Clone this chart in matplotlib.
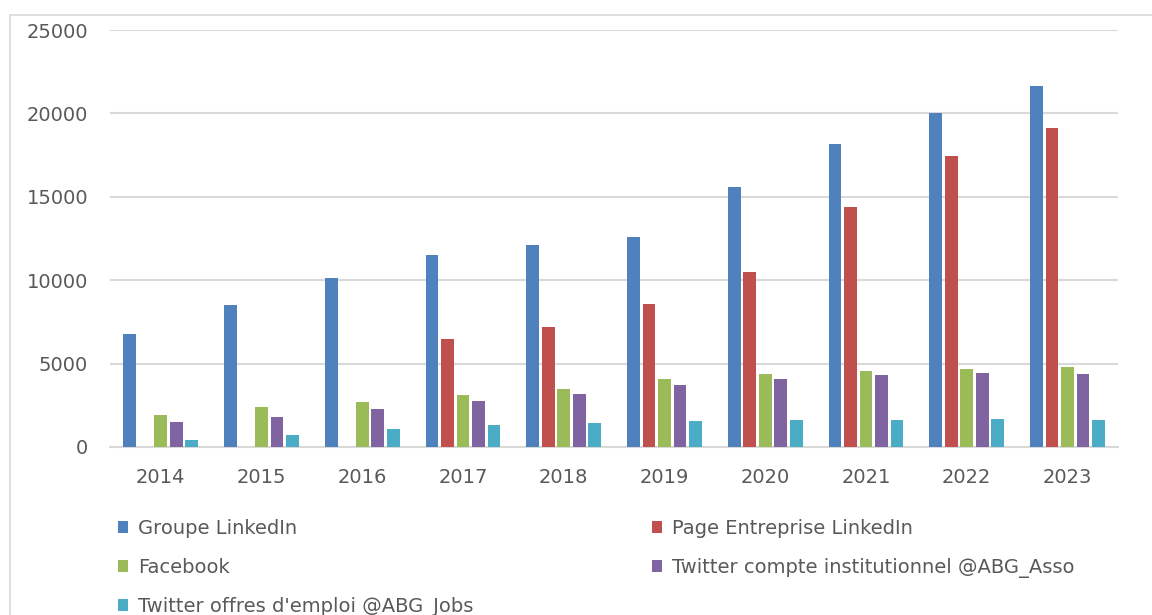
import numpy as np
import matplotlib.pyplot as plt
from matplotlib.patches import Patch, Rectangle

# data
years = ['2014', '2015', '2016', '2017', '2018', '2019', '2020', '2021', '2022', '2023']
groupe_linkedin = [6780, 8520, 10120, 11520, 12100, 12560, 15560, 18160, 20040, 21660]
page_linkedin = [0, 0, 0, 6480, 7220, 8560, 10500, 14400, 17460, 19110]
facebook = [1920, 2400, 2680, 3120, 3460, 4080, 4380, 4560, 4660, 4780]
twitter_asso = [1480, 1780, 2280, 2760, 3200, 3700, 4060, 4300, 4420, 4400]
twitter_jobs = [400, 740, 1060, 1340, 1440, 1540, 1620, 1640, 1660, 1600]

series = [
    ('Groupe LinkedIn', groupe_linkedin, '#4f81bd'),
    ('Page Entreprise LinkedIn', page_linkedin, '#c0504d'),
    ('Facebook', facebook, '#9bbb59'),
    ('Twitter compte institutionnel @ABG_Asso', twitter_asso, '#8064a2'),
    ('Twitter offres d\'emploi @ABG_Jobs', twitter_jobs, '#4bacc6'),
]

text_color = '#595959'
grid_color = '#d9d9d9'

plt.rcParams['font.family'] = ['DejaVu Sans']

fig = plt.figure(figsize=(11.52, 6.15), dpi=100)
ax = fig.add_axes([0.0958, 0.2732, 0.8746, 0.678])

x = np.arange(len(years))
step = 0.154
for i, (name, vals, col) in enumerate(series):
    ax.bar(x + (i - 2) * step, vals, width=0.126, color=col, zorder=3)

ax.set_xlim(-0.5, len(years) - 0.5)
ax.set_ylim(0, 25000)
ax.set_yticks(range(0, 25001, 5000))
ax.set_xticks(x)
ax.set_xticklabels(years)
ax.tick_params(axis='both', length=0, labelsize=14, labelcolor=text_color)
ax.tick_params(axis='x', pad=15)
ax.tick_params(axis='y', pad=16)
ax.grid(axis='y', color=grid_color, linewidth=1.5, zorder=0)
for s in ['top', 'right', 'left']:
    ax.spines[s].set_visible(False)
ax.spines['bottom'].set_color(grid_color)
ax.spines['bottom'].set_linewidth(1.5)

# legend: matplotlib fills columns first, so reorder for row-wise reading
order = [0, 2, 4, 1, 3]
handles = [Patch(facecolor=series[k][2], label=series[k][0]) for k in order]
fig.legend(handles=handles, loc='upper left', bbox_to_anchor=(0.1024, 0.156),
           ncol=2, frameon=False, fontsize=14, labelcolor=text_color,
           handlelength=0.52, handleheight=0.52, handletextpad=0.5,
           columnspacing=9.2, labelspacing=1.02, borderaxespad=0, borderpad=0)

# outer chart border
fig.patches.append(Rectangle((10 / 1152, -0.1), 1.2, 0.1 + 1 - 15 / 615,
                             transform=fig.transFigure, fill=False,
                             edgecolor=grid_color, linewidth=1.2))

plt.savefig('out.png', dpi=100)
plt.close()
